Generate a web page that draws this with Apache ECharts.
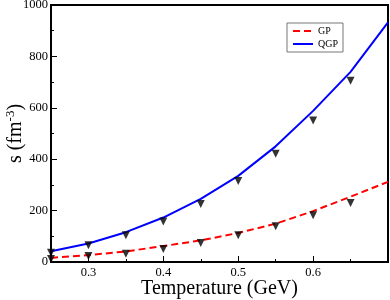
<!DOCTYPE html>
<html><head><meta charset="utf-8">
<script src="https://cdn.jsdelivr.net/npm/echarts@6/dist/echarts.min.js"></script>
<style>html,body{margin:0;padding:0;background:#fff}#c{width:390px;height:300px}</style>
</head><body><div id="c"></div>
<script>
var temps = [0.25, 0.30, 0.35, 0.40, 0.45, 0.50, 0.55, 0.60, 0.65, 0.70];
var gpLine = [16, 27, 41, 62, 84, 113, 149, 198, 254, 312];
var qgpLine = [42, 72, 116, 173, 246, 335, 450, 588, 740, 932];
var markTemps = [0.25, 0.30, 0.35, 0.40, 0.45, 0.50, 0.55, 0.60, 0.65];
var gpPoints = [12, 23, 32, 51, 74, 104, 139, 182, 230];
var qgpPoints = [36, 65, 104, 158, 226, 315, 421, 551, 705];
var xTickLabels = [0.3, 0.4, 0.5, 0.6];
var xMajorTicks = [0.3, 0.4, 0.5, 0.6, 0.7];
var xMinorTicks = [0.35, 0.45, 0.55, 0.65];

function pairs(xs, ys){ return ys.map(function(v,i){ return [xs[i], v]; }); }
var serif = '"Liberation Serif", "DejaVu Serif", serif';
var chart = echarts.init(document.getElementById('c'));
chart.setOption({
  animation: false,
  backgroundColor: '#fff',
  grid: {left: 51, right: 2, top: 5, bottom: 38, containLabel: false, outerBoundsMode: 'none', show: true, borderColor: '#000', borderWidth: 2, backgroundColor: 'transparent'},
  legend: {
    orient: 'vertical', left: 287, top: 23, padding: [3, 5, 3, 5],
    borderColor: '#777', borderWidth: 1, backgroundColor: '#fff',
    itemWidth: 20, itemHeight: 8, itemGap: 3,
    itemStyle: {opacity: 0},
    textStyle: {fontFamily: serif, fontSize: 10, color: '#000'},
    data: ['GP', 'QGP']
  },
  xAxis: [{
    type: 'value', min: 0.25, max: 0.7,
    name: 'Temperature (GeV)', nameLocation: 'middle', nameGap: 17, nameMoveOverlap: false,
    nameTextStyle: {fontFamily: serif, fontSize: 20, color: '#000', verticalAlign: 'top'},
    axisLine: {lineStyle: {color: '#000', width: 2}},
    axisTick: {inside: true, length: 6, customValues: xMajorTicks, lineStyle: {color: '#000'}},
    axisLabel: {customValues: xTickLabels, fontFamily: serif, fontSize: 12.5, color: '#000', margin: 4, formatter: function(v){return v.toFixed(1);}},
    splitLine: {show: false}
  }, {
    type: 'value', min: 0.25, max: 0.7, position: 'bottom',
    axisLine: {show: false},
    axisTick: {inside: true, length: 3, customValues: xMinorTicks, lineStyle: {color: '#000'}},
    axisLabel: {show: false}, splitLine: {show: false}
  }],
  yAxis: {
    type: 'value', min: 0, max: 1000, interval: 200,
    name: 's (fm{sup|-3})', nameLocation: 'middle', nameGap: 24, nameRotate: 90, nameMoveOverlap: false,
    nameTextStyle: {fontFamily: serif, fontSize: 20, color: '#000', rich: {sup: {fontFamily: serif, fontSize: 13, verticalAlign: 'top', padding: [0,0,10,0], color: '#000'}}},
    axisLine: {show: true, lineStyle: {color: '#000', width: 2}},
    axisTick: {show: true, inside: true, length: 6, lineStyle: {color: '#000'}},
    minorTick: {show: true, splitNumber: 2, length: 3, lineStyle: {color: '#000'}},
    axisLabel: {fontFamily: serif, fontSize: 12.5, color: '#000', margin: 3, formatter: function(v){return String(v);}},
    splitLine: {show: false}
  },
  series: [
    {name: 'GP', type: 'line', data: pairs(temps, gpLine), symbol: 'none', lineStyle: {color: '#ff0000', width: 2, type: [7, 4]}, itemStyle: {color: '#ff0000'}},
    {name: 'QGP', type: 'line', data: pairs(temps, qgpLine), symbol: 'none', lineStyle: {color: '#0000ff', width: 2}, itemStyle: {color: '#0000ff'}},
    {name: 'gpPts', type: 'scatter', data: pairs(markTemps, gpPoints), symbol: 'triangle', symbolRotate: 180, symbolSize: 8, clip: false, itemStyle: {color: '#000'}, z: 5},
    {name: 'qgpPts', type: 'scatter', data: pairs(markTemps, qgpPoints), symbol: 'triangle', symbolRotate: 180, symbolSize: 8, clip: false, itemStyle: {color: '#000'}, z: 5}
  ]
});
</script></body></html>
